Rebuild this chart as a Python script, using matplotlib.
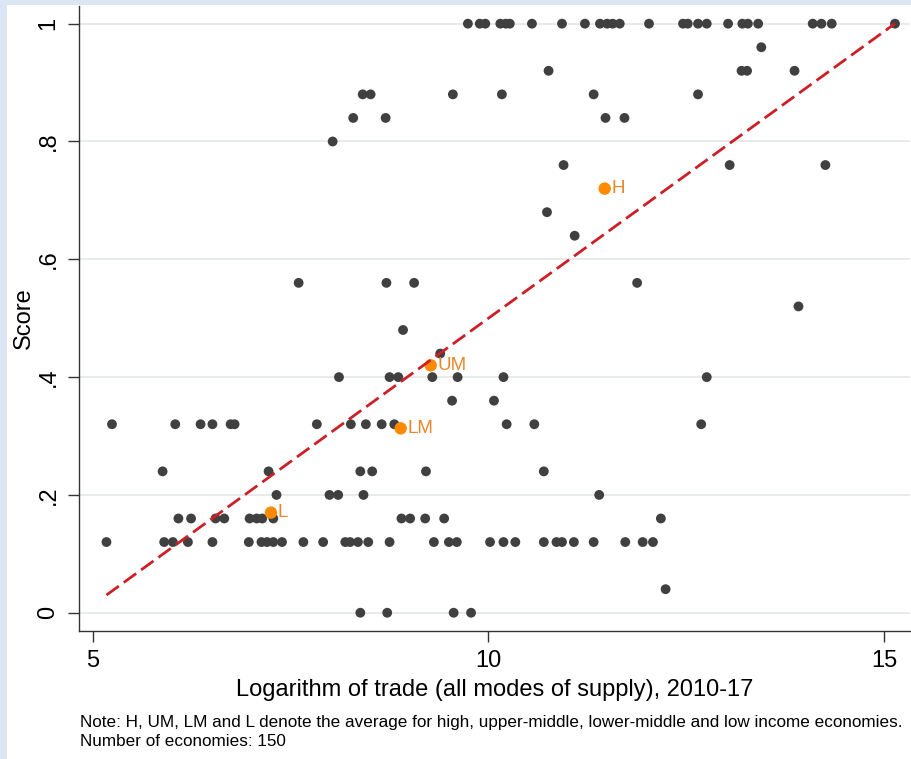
import matplotlib
matplotlib.use("Agg")
import matplotlib.pyplot as plt
from matplotlib.patches import Rectangle
import numpy as np

plt.rcParams['font.family'] = ['Liberation Sans', 'DejaVu Sans']

# Economies: log of trade (x) and score (y), grouped by score level
score_levels = {
    1.00: [9.74, 9.89, 9.96, 10.15, 10.22, 10.27, 10.55, 10.93, 11.22, 11.41, 11.50,
           11.57, 11.66, 12.03, 12.46, 12.52, 12.65, 12.76, 13.03, 13.21, 13.28, 13.41,
           14.10, 14.21, 14.34, 15.14],
    0.96: [13.45],
    0.92: [10.76, 13.20, 13.27, 13.87],
    0.88: [8.41, 8.51, 9.55, 10.17, 11.33, 12.65],
    0.84: [8.29, 8.70, 11.48, 11.72],
    0.80: [8.03],
    0.76: [10.95, 13.05, 14.26],
    0.68: [10.74],
    0.64: [11.09],
    0.56: [7.60, 8.71, 9.06, 11.88],
    0.52: [13.92],
    0.48: [8.92],
    0.44: [9.39],
    0.40: [8.11, 8.75, 8.86, 9.29, 9.61, 10.19, 12.76],
    0.36: [9.54, 10.07],
    0.32: [5.24, 6.04, 6.36, 6.51, 6.74, 6.79, 7.83, 8.26, 8.45, 8.65, 8.81, 10.23,
           10.58, 12.69],
    0.24: [5.88, 7.22, 8.38, 8.53, 9.21, 10.70],
    0.20: [7.32, 7.99, 8.10, 8.42, 11.40],
    0.16: [6.08, 6.24, 6.55, 6.66, 6.98, 7.07, 7.14, 7.28, 8.90, 9.01, 9.20, 9.44, 12.18],
    0.12: [5.17, 5.90, 6.01, 6.20, 6.51, 6.97, 7.13, 7.20, 7.28, 7.39, 7.66, 7.91,
           8.19, 8.25, 8.35, 8.48, 8.75, 9.31, 9.50, 9.60, 10.02, 10.19, 10.34, 10.70,
           10.86, 10.93, 11.08, 11.33, 11.73, 11.95, 12.08],
    0.04: [12.24],
    0.00: [8.38, 8.72, 9.56, 9.78],
}

# Income-group averages
group_labels = ["H", "UM", "LM", "L"]
group_x = [11.47, 9.27, 8.89, 7.25]
group_y = [0.72, 0.42, 0.313, 0.17]

# Linear fit (score on log trade)
fit_intercept = -0.473
fit_slope = 0.0973

x_ticks = [5, 10, 15]
y_ticks = [0, 0.2, 0.4, 0.6, 0.8, 1.0]
y_tick_labels = ["0", ".2", ".4", ".6", ".8", "1"]

xs = np.concatenate([np.array(v) for v in score_levels.values()])
ys = np.concatenate([np.full(len(v), k) for k, v in score_levels.items()])

fig = plt.figure(figsize=(9.12, 7.59), dpi=100)
fig.patch.set_facecolor("#dbe5f4")
fig.patches.append(Rectangle((7 / 912, 0), 1, 754 / 759, transform=fig.transFigure,
                             facecolor="white", edgecolor="none", zorder=-10))

ax = fig.add_axes([79 / 912, 1 - 631 / 759, (910 - 79) / 912, (631 - 6) / 759])
ax.set_zorder(1)
ax.set_facecolor("white")
ax.set_xlim(4.823, 15.33)
ax.set_ylim(-0.031, 1.03)

for yt in y_ticks:
    ax.axhline(yt, color="#e7ebeb", linewidth=1.4, zorder=0)

ax.scatter(xs, ys, s=50, color="#404040", edgecolors="none", zorder=2)

fx = np.array([xs.min(), xs.max()])
ax.plot(fx, fit_intercept + fit_slope * fx, color="#cc1f26", linestyle=(0, (5.5, 2.2)),
        linewidth=2.0, zorder=4)

ax.scatter(group_x, group_y, s=80, color="#ff8a00", edgecolors="none", zorder=3)
for lab, gx, gy in zip(group_labels, group_x, group_y):
    ax.annotate(lab, (gx, gy), xytext=(5, 0), textcoords="offset points",
                va="center", ha="left", fontsize=13.5, color="#e8872a", zorder=5)

for side in ("top", "right"):
    ax.spines[side].set_visible(False)
for side in ("left", "bottom"):
    ax.spines[side].set_color("#333333")
    ax.spines[side].set_linewidth(1.0)

ax.set_xticks(x_ticks)
ax.set_xticklabels([str(t) for t in x_ticks], fontsize=17)
ax.set_yticks(y_ticks)
ax.set_yticklabels(y_tick_labels, fontsize=17, rotation=90, va="center")
ax.tick_params(axis="both", direction="out", length=8, width=1.0, color="#333333",
               pad=6)

ax.set_xlabel("Logarithm of trade (all modes of supply), 2010-17", fontsize=17, labelpad=5)
ax.set_ylabel("Score", fontsize=17, labelpad=2)

fig.text(80 / 912, 1 - 722 / 759,
         "Note: H, UM, LM and L denote the average for high, upper-middle, lower-middle and low income economies.",
         fontsize=12.3, va="center", ha="left")
fig.text(80 / 912, 1 - 741 / 759, "Number of economies: 150",
         fontsize=12.3, va="center", ha="left")

fig.savefig("out.png", dpi=100, facecolor=fig.get_facecolor())
